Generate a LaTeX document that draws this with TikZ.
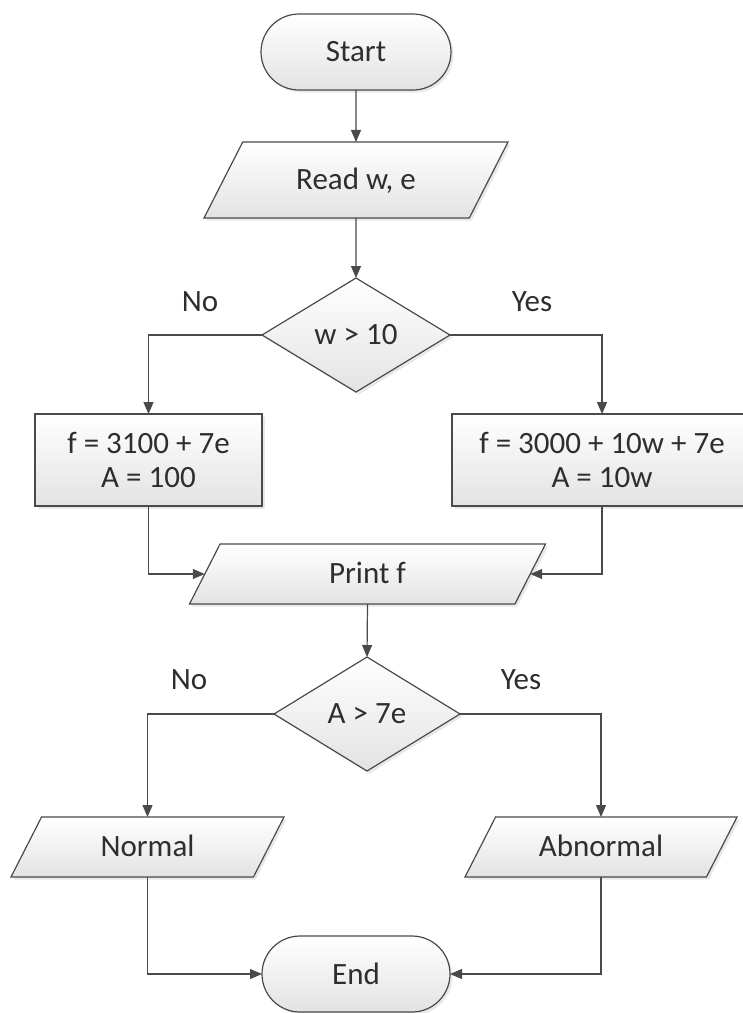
\documentclass[tikz,border=0pt]{standalone}
\usepackage{fontspec}
\setmainfont{Carlito}
\usetikzlibrary{shapes.geometric,shapes.misc,arrows.meta,shadows}
\definecolor{edge}{HTML}{4A4A4A}
\definecolor{ink}{HTML}{2E2E2E}
\begin{document}
\begin{tikzpicture}[x=1pt,y=-1pt,
  every node/.style={font=\fontsize{31}{34}\selectfont, text=ink},
  boxbase/.style={draw=edge, line width=1.2pt, top color=white, bottom color=black!11,
    drop shadow={opacity=0.18, shadow xshift=2.5pt, shadow yshift=-2.5pt},
    inner sep=0pt, outer sep=0pt, align=center},
  term/.style={boxbase, shape=rounded rectangle, rounded rectangle arc length=180,
    minimum width=190pt, minimum height=76pt},
  io/.style={boxbase, shape=trapezium, trapezium left angle=63, trapezium right angle=117,
    trapezium stretches body, text height=24pt, text depth=5pt, inner xsep=2pt},
  iotall/.style={io, inner ysep=23.5pt},
  ioshort/.style={io, inner ysep=15.5pt},
  proc/.style={boxbase, shape=rectangle, minimum height=92pt},
  dec/.style={boxbase, shape=diamond, minimum width=188pt, minimum height=114pt},
  lbl/.style={inner sep=0pt},
  arr/.style={draw=edge, line width=1.2pt, -{Triangle[length=12pt,width=10pt]}}
]
\useasboundingbox (0,0) rectangle (743,1013);
\clip (0,0) rectangle (743,1013);

\node[term] (start) at (356,52) {Start};
\node[iotall, minimum width=304pt] (read) at (356,180) {Read w, e};
\node[dec] (d1) at (356,335) {w > 10};
\node[proc, minimum width=227pt] (lbox) at (148.5,460) {f = 3100 + 7e\\A = 100};
\node[proc, minimum width=300pt] (rbox) at (602,460) {f = 3000 + 10w + 7e\\A = 10w};
\node[ioshort, minimum width=356pt] (print) at (367.5,574) {Print f};
\node[dec, minimum width=186pt] (d2) at (367,714) {A > 7e};
\node[ioshort, minimum width=273pt] (normal) at (147.5,847) {Normal};
\node[ioshort, minimum width=272pt] (abnormal) at (601,847) {Abnormal};
\node[term, minimum width=188pt] (end) at (356,974) {End};

\node[lbl] (no1) at (200,302) {No};
\node[lbl] (yes1) at (532,302) {Yes};
\node[lbl] (no2) at (189,680) {No};
\node[lbl] (yes2) at (521,680) {Yes};

\draw[arr] (start) -- (read);
\draw[arr] (read) -- (d1);
\draw[arr] (d1.west) -| (lbox.north);
\draw[arr] (d1.east) -| (rbox.north);
\draw[arr] (lbox.south) |- (print.left side);
\draw[arr] (rbox.south) |- (print.right side);
\draw[arr] (print.south) -- (d2.north);
\draw[arr] (d2.west) -| (normal.north);
\draw[arr] (d2.east) -| (abnormal.north);
\draw[arr] (normal.south) |- (end.west);
\draw[arr] (abnormal.south) |- (end.east);
\end{tikzpicture}
\end{document}
